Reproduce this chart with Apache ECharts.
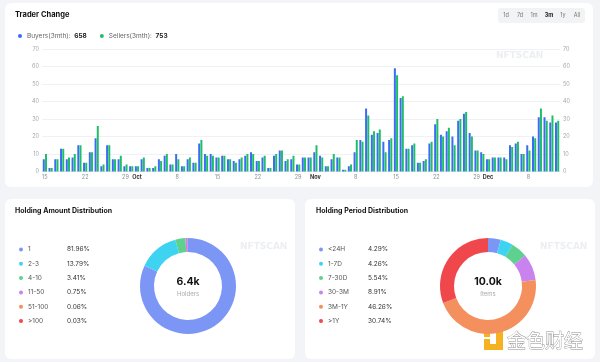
<!DOCTYPE html>
<html><head><meta charset="utf-8">
<script src="https://cdn.jsdelivr.net/npm/echarts@6/dist/echarts.min.js"></script>
<style>
html,body{margin:0;padding:0;background:#f3f4f7;width:600px;height:362px;overflow:hidden;}
.card{position:absolute;background:#fff;border-radius:6px;}
#c{position:absolute;left:0;top:0;width:600px;height:362px;}
</style>
</head><body>
<div class="card" style="left:5px;top:3px;width:588px;height:184px;"></div>
<div class="card" style="left:5px;top:199px;width:290px;height:160px;"></div>
<div class="card" style="left:305px;top:199px;width:290px;height:160px;"></div>
<div id="c"></div>
<script>
const categories = [
 '09-15','09-16','09-17','09-18','09-19','09-20','09-21','09-22','09-23','09-24','09-25','09-26','09-27','09-28','09-29','09-30',
 '10-01','10-02','10-03','10-04','10-05','10-06','10-07','10-08','10-09','10-10','10-11','10-12','10-13','10-14','10-15','10-16',
 '10-17','10-18','10-19','10-20','10-21','10-22','10-23','10-24','10-25','10-26','10-27','10-28','10-29','10-30','10-31',
 '11-01','11-02','11-03','11-04','11-05','11-06','11-07','11-08','11-09','11-10','11-11','11-12','11-13','11-14','11-15',
 '11-16','11-17','11-18','11-19','11-20','11-21','11-22','11-23','11-24','11-25','11-26','11-27','11-28','11-29','11-30',
 '12-01','12-02','12-03','12-04','12-05','12-06','12-07','12-08','12-09','12-10','12-11','12-12','12-13'
];
const monthNames = ['Jan','Feb','Mar','Apr','May','Jun','Jul','Aug','Sep','Oct','Nov','Dec'];
const buyers = [
 7,2,7,13,7,8,15,5,11,19,3,15,7,7,3,3,
 3,7,2,2,7,9,4,10,3,7,5,16,10,10,8,9,7,6,7,9,11,6,8,2,9,12,6,7,4,8,8,
 11,9,3,7,8,1,3,11,18,36,21,22,17,18,59,42,13,15,5,6,16,27,21,23,20,29,33,22,12,11,
 7,8,8,8,15,16,10,15,20,31,31,28,28
];
const sellers = [
 10,2,7,13,8,10,15,5,11,26,4,15,7,9,4,3,
 3,8,2,3,6,10,4,7,3,8,5,18,9,9,8,9,7,5,8,10,10,6,9,2,10,12,7,9,4,8,8,
 15,8,3,10,8,1,4,18,17,32,23,24,11,19,55,43,13,16,5,7,17,30,20,25,15,30,34,20,12,10,
 7,8,8,7,14,17,10,12,19,36,29,32,29
];
const buyersTotal = 658;
const sellersTotal = 753;
const tabs = ['1d','7d','1m','3m','1y','All'];
const activeTab = '3m';

const amountNames = ['1','2-3','4-10','11-50','51-100','>100'];
const amountValues = [81.96,13.79,3.41,0.75,0.06,0.03];
const amountTotal = '6.4k';
const periodNames = ['<24H','1-7D','7-30D','30-3M','3M-1Y','>1Y'];
const periodValues = [4.29,4.26,5.54,8.91,46.26,30.74];
const periodTotal = '10.0k';

const pieColors = ['#7c96f6','#3fd3f2','#5fd18f','#c883ee','#f48f5e','#f0474d'];
const FONT = 'Inter, "Noto Sans", sans-serif';

const pctMap = {};
amountNames.forEach((n,i)=>pctMap[n]=amountValues[i].toFixed(2)+'%');
periodNames.forEach((n,i)=>pctMap[n]=periodValues[i].toFixed(2)+'%');

const chart = echarts.init(document.getElementById('c'));
const tabX = [506,520,534,549,563,577];
const graphics = [
  {type:'text', left:15, top:11, style:{text:'Trader Change', font:'bold 7.5px '+FONT, fill:'#111'}},
  {type:'text', left:15, top:207, style:{text:'Holding Amount Distribution', font:'bold 7px '+FONT, fill:'#111'}},
  {type:'text', left:316, top:207, style:{text:'Holding Period Distribution', font:'bold 7px '+FONT, fill:'#111'}},
  {type:'rect', shape:{x:498,y:8,width:87,height:15,r:3}, style:{fill:'#f2f3f5'}},
  {type:'text', x:496, y:51, style:{text:'NFTSCAN', font:'bold 9px "DejaVu Sans"', fill:'#eceef2'}},
  {type:'text', x:240, y:242, style:{text:'NFTSCAN', font:'bold 9px "DejaVu Sans"', fill:'#eceef2'}},
  {type:'text', x:540, y:242, style:{text:'NFTSCAN', font:'bold 9px "DejaVu Sans"', fill:'#eceef2'}},
  {type:'text', x:188, y:282, style:{text:amountTotal, font:'bold 10.5px '+FONT, fill:'#111', align:'center', verticalAlign:'middle'}},
  {type:'text', x:188, y:294, style:{text:'Holders', font:'6px '+FONT, fill:'#aaa', align:'center', verticalAlign:'middle'}},
  {type:'text', x:488, y:282, style:{text:periodTotal, font:'bold 10.5px '+FONT, fill:'#111', align:'center', verticalAlign:'middle'}},
  {type:'text', x:488, y:294, style:{text:'Items', font:'6px '+FONT, fill:'#aaa', align:'center', verticalAlign:'middle'}},
  {type:'rect', shape:{x:484,y:331,width:6,height:6}, style:{fill:'#f5b120'}},
  {type:'polygon', shape:{points:[[496,331],[503,331],[503,350],[484,350],[484,339],[490,339],[490,344],[496,344]]}, style:{fill:'#f5b120'}},
  {type:'text', x:507, y:341, style:{text:'金色财经', font:'19px "Noto Sans CJK SC"', fill:'#ffffff', stroke:'#8c8c8c', lineWidth:0.8, verticalAlign:'middle'}}
];
tabs.forEach((t,i)=>graphics.push({type:'text', x:tabX[i], y:15.5, style:{text:t, font:(t===activeTab?'bold ':'')+'5.5px '+FONT, fill:t===activeTab?'#222':'#777', align:'center', verticalAlign:'middle'}}));

const option = {
  animation:false,
  textStyle:{fontFamily:FONT},
  graphic: graphics,
  grid:{left:42, right:40, top:49, bottom:190.5},
  xAxis:{type:'category', data:categories, axisTick:{show:false},
    axisLine:{lineStyle:{color:'#e6e8ec'}},
    axisLabel:{interval:(i,v)=>[1,8,15,22,29].includes(+v.slice(3)), hideOverlap:false,
      formatter:v=>{const d=+v.slice(3); return d===1?'{m|'+monthNames[+v.slice(0,2)-1]+'}':String(d);},
      fontSize:5.5, color:'#8a8f99', margin:3, rich:{m:{fontWeight:'bold', color:'#333', fontSize:5.5}}}},
  yAxis:[
    {type:'value', min:0, max:70, interval:10, position:'left', axisLabel:{fontSize:5.5,color:'#a3a7ae',margin:3}, splitLine:{lineStyle:{color:'#eff1f4'}}},
    {type:'value', min:0, max:70, interval:10, position:'right', axisLabel:{fontSize:5.5,color:'#a3a7ae',margin:3}, splitLine:{show:false}}
  ],
  legend:[
    {data:['Buyers(3mth)','Sellers(3mth)'], left:13, top:27.5, icon:'circle', itemWidth:4, itemHeight:4, itemGap:13,
      formatter:n=>n+':  {b|'+(n.startsWith('Buyers')?buyersTotal:sellersTotal)+'}',
      textStyle:{fontSize:6.5, color:'#666', rich:{b:{fontSize:6.5, fontWeight:'bold', color:'#222'}}}},
    {data:amountNames, orient:'vertical', left:14, top:239.5, icon:'circle', itemWidth:4, itemHeight:4, itemGap:4.3, selectedMode:false,
      formatter:n=>'{n|'+n+'}{p|'+pctMap[n]+'}',
      textStyle:{fontSize:6.5, color:'#555', lineHeight:10, rich:{n:{width:39, fontSize:6.5, color:'#555'}, p:{fontSize:6.5, color:'#333'}}}},
    {data:periodNames, orient:'vertical', left:314, top:239.5, icon:'circle', itemWidth:4, itemHeight:4, itemGap:4.3, selectedMode:false,
      formatter:n=>'{n|'+n+'}{p|'+pctMap[n]+'}',
      textStyle:{fontSize:6.5, color:'#555', lineHeight:10, rich:{n:{width:40, fontSize:6.5, color:'#555'}, p:{fontSize:6.5, color:'#333'}}}}
  ],
  series:[
    {name:'Buyers(3mth)', type:'bar', data:buyers, barWidth:2, barGap:'10%', itemStyle:{color:'#3b6cf3'}},
    {name:'Sellers(3mth)', type:'bar', data:sellers, barWidth:2, barGap:'10%', itemStyle:{color:'#1fbe68'}},
    {type:'pie', radius:[34,48], center:[188,286], label:{show:false}, labelLine:{show:false}, silent:true,
      data:amountNames.map((n,i)=>({name:n, value:amountValues[i], itemStyle:{color:pieColors[i]}}))},
    {type:'pie', radius:[34,48], center:[488,286], label:{show:false}, labelLine:{show:false}, silent:true,
      data:periodNames.map((n,i)=>({name:n, value:periodValues[i], itemStyle:{color:pieColors[i]}}))}
  ]
};
chart.setOption(option);
</script>
</body></html>
